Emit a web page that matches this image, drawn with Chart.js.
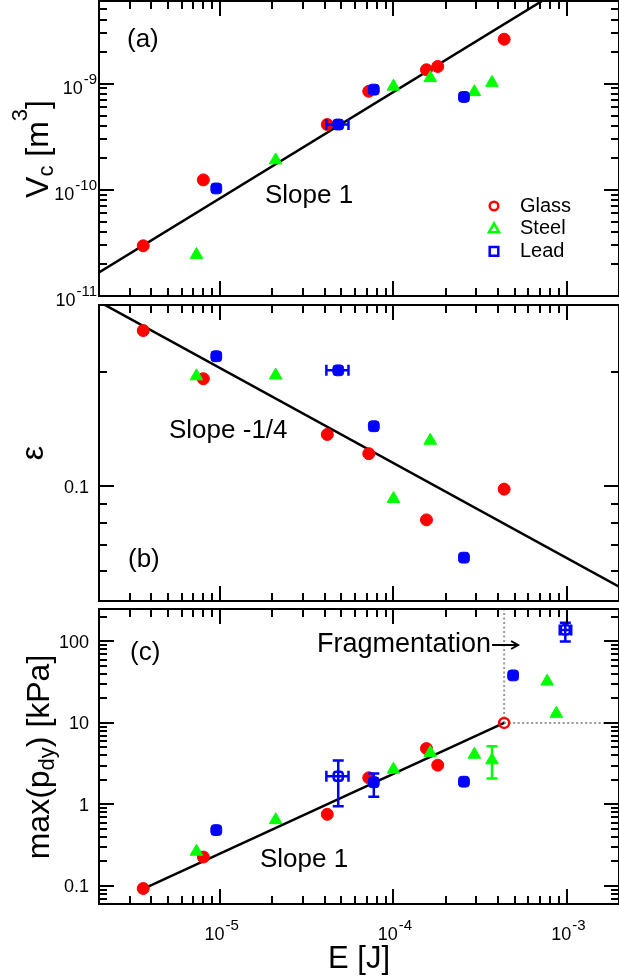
<!DOCTYPE html>
<html>
<head>
<meta charset="utf-8">
<title>Crater volume, restitution and peak pressure vs impact energy</title>
<script src="https://cdn.jsdelivr.net/npm/chart.js@4.4.1/dist/chart.umd.min.js"></script>
<style>
  html, body { margin: 0; padding: 0; background: #fff; }
  .wrap { position: relative; width: 619px; height: 979px; }
  .wrap canvas { position: absolute; left: 0; top: 0; }
</style>
</head>
<body>
<div class="wrap">
  <canvas id="chartVc" width="619" height="979"></canvas>
  <canvas id="chartEps" width="619" height="979"></canvas>
  <canvas id="chartP" width="619" height="979"></canvas>
</div>
<script>
// impact energy axis, shared by the three panels
const energyRange = [2e-6, 2e-3];
const energyTicks = [1e-5, 1e-4, 1e-3];

const vcRange = [1e-11, 6e-9];
const vcTicks = [1e-11, 1e-10, 1e-9];
const epsRange = [0.05, 0.3];
const epsTicks = [0.1];
const pRange = [0.06, 250];
const pTicks = [0.1, 1, 10, 100];

// glass beads
const glassE = [3.6e-6, 8.0e-6, 4.15e-5, 7.2e-5, 1.55e-4, 1.8e-4, 4.35e-4];
const glassVc = [2.97e-11, 1.24e-10, 4.12e-10, 8.47e-10, 1.35e-9, 1.45e-9, 2.62e-9];
const glassEps = [0.257, 0.192, 0.137, 0.122, 0.0817, null, 0.0984];
const glassP = [0.093, 0.226, 0.755, 2.12, 4.85, 3.03, 10];

// steel balls
const steelE = [7.3e-6, 2.09e-5, 1.0e-4, 1.63e-4, 2.93e-4, 3.7e-4, 7.7e-4, 8.7e-4];
const steelVc = [2.44e-11, 1.9e-10, 9.4e-10, 1.13e-9, 8.34e-10, 1.02e-9, null, null];
const steelEps = [0.195, 0.196, 0.0928, 0.132, null, null, null, null];
const steelP = [0.264, 0.643, 2.68, 4.3, 4.09, 3.49, 32.3, 13.0];
const steelPLow = [null, null, null, null, null, 2.08, null, null];
const steelPHigh = [null, null, null, null, null, 5.17, null, null];

// lead balls
const leadE = [9.5e-6, 4.8e-5, 7.7e-5, 2.55e-4, 4.9e-4, 9.8e-4];
const leadELow = [null, 4.1e-5, null, null, null, 9.1e-4];
const leadEHigh = [null, 5.5e-5, null, null, null, 1.06e-3];
const leadVc = [1.03e-10, 4.12e-10, 8.78e-10, 7.49e-10, null, null];
const leadEps = [0.22, 0.202, 0.144, 0.065, null, null];
const leadP = [0.484, 2.22, 1.87, 1.9, 38.3, 138.6];
const leadPLow = [null, 0.95, 1.24, null, null, 100];
const leadPHigh = [null, 3.46, 2.4, null, null, 170];

// power-law guides
const slopeVcE = [2e-6, 1e-3];
const slopeVc = [1.67e-11, 8.35e-9];
const slopeEpsE = [2e-6, 2e-3];
const slopeEps = [0.306, 0.0545];
const slopePE = [3.6e-6, 4.35e-4];
const slopeP = [0.092, 10];

// fragmentation threshold
const fragE = 4.35e-4;
const fragP = 10;

const RED = '#ff0000', GREEN = '#00ff00', BLUE = '#0000ff';
const FONT = '"Liberation Sans", Arial, Helvetica, sans-serif';
const CANVAS_H = 979, LEFT = 99;

function font(px) { return px + 'px ' + FONT; }

function logSteps(min, max) {
  const out = [];
  const e0 = Math.floor(Math.log10(min)), e1 = Math.ceil(Math.log10(max));
  for (let e = e0; e <= e1; e++) {
    for (let m = 1; m <= 9; m++) {
      const v = m * Math.pow(10, e);
      if (v >= min * (1 - 1e-9) && v <= max * (1 + 1e-9)) out.push({ v, major: m === 1 });
    }
  }
  return out;
}

// text made of runs with their own size and vertical shift (sub/superscripts)
function drawRich(ctx, parts, x, y, align) {
  let w = 0;
  parts.forEach(p => {
    ctx.font = font(p.size);
    p.w = ctx.measureText(p.t).width;
    w += p.w + (p.gap || 0);
  });
  let cx = align === 'center' ? x - w / 2 : align === 'right' ? x - w : x;
  parts.forEach(p => {
    cx += p.gap || 0;
    ctx.font = font(p.size);
    ctx.fillText(p.t, cx, y + (p.dy || 0));
    cx += p.w;
  });
  return cx;
}

function tickParts(v) {
  const exp = Math.round(Math.log10(v));
  if (Math.abs(exp) >= 3) {
    return [{ t: '10', size: 18 }, { t: String(exp), size: 15, dy: -10, gap: 1 }];
  }
  return [{ t: String(v), size: 18 }];
}

function markers(label, xs, ys, style, color, openIdx, extra) {
  openIdx = openIdx || [];
  const r = { circle: 6, triangle: 7.3, rectRounded: 6.3 }[style];
  return Object.assign({
    label,
    data: xs.map((x, i) => ({ x, y: ys[i] })),
    showLine: false,
    pointStyle: style,
    borderColor: color,
    pointBorderColor: color,
    pointBackgroundColor: xs.map((_, i) => openIdx.includes(i) ? 'rgba(255,255,255,0)' : color),
    pointRadius: xs.map((_, i) => openIdx.includes(i) ? r - 1 : r),
    pointBorderWidth: xs.map((_, i) => openIdx.includes(i) ? 2.5 : 1),
    pointHoverRadius: 0
  }, extra || {});
}

function straight(xs, ys, color, width, dash) {
  return {
    data: xs.map((x, i) => ({ x, y: ys[i] })),
    showLine: true,
    borderColor: color,
    borderWidth: width,
    borderDash: dash || [],
    pointRadius: 0,
    pointHoverRadius: 0,
    clip: 0
  };
}

function drawErrorBars(chart) {
  const ctx = chart.ctx, xs = chart.scales.x, ys = chart.scales.y;
  const cap = 5.5;
  chart.data.datasets.forEach(ds => {
    if (!ds.errX && !ds.errY) return;
    ctx.save();
    ctx.strokeStyle = ds.borderColor;
    ctx.lineWidth = 2.5;
    ds.data.forEach((p, i) => {
      if (p.y == null) return;
      const px = xs.getPixelForValue(p.x), py = ys.getPixelForValue(p.y);
      ctx.beginPath();
      if (ds.errX && ds.errX[0][i] != null) {
        const x0 = xs.getPixelForValue(ds.errX[0][i]), x1 = xs.getPixelForValue(ds.errX[1][i]);
        ctx.moveTo(x0, py); ctx.lineTo(x1, py);
        ctx.moveTo(x0, py - cap); ctx.lineTo(x0, py + cap);
        ctx.moveTo(x1, py - cap); ctx.lineTo(x1, py + cap);
      }
      if (ds.errY && ds.errY[0][i] != null) {
        const y0 = ys.getPixelForValue(ds.errY[0][i]), y1 = ys.getPixelForValue(ds.errY[1][i]);
        ctx.moveTo(px, y0); ctx.lineTo(px, y1);
        ctx.moveTo(px - cap, y0); ctx.lineTo(px + cap, y0);
        ctx.moveTo(px - cap, y1); ctx.lineTo(px + cap, y1);
      }
      ctx.stroke();
    });
    ctx.restore();
  });
}

function drawLegend(ctx, x, y) {
  const rows = [['Glass', RED, 'circle'], ['Steel', GREEN, 'triangle'], ['Lead', BLUE, 'square']];
  rows.forEach((row, k) => {
    const cy = y + k * 22.7;
    ctx.strokeStyle = row[1];
    ctx.lineWidth = 2.5;
    ctx.beginPath();
    if (row[2] === 'circle') {
      ctx.arc(x, cy, 4.3, 0, Math.PI * 2);
    } else if (row[2] === 'triangle') {
      ctx.moveTo(x, cy - 5.3); ctx.lineTo(x + 5, cy + 3.6); ctx.lineTo(x - 5, cy + 3.6); ctx.closePath();
    } else {
      ctx.rect(x - 4.3, cy - 4.3, 8.6, 8.6);
    }
    ctx.stroke();
    ctx.fillStyle = '#000';
    ctx.font = font(20);
    ctx.fillText(row[0], x + 26, cy + 5.5);
  });
}

function drawArrow(ctx, x0, x1, y) {
  ctx.strokeStyle = '#000';
  ctx.lineWidth = 2;
  ctx.beginPath();
  ctx.moveTo(x0, y); ctx.lineTo(x1, y);
  ctx.moveTo(x1 - 7, y - 4); ctx.lineTo(x1, y); ctx.lineTo(x1 - 7, y + 4);
  ctx.stroke();
}

// frame, inward ticks on all four sides, tick labels, titles and notes
function framePlugin(spec) {
  return {
    id: 'frame',
    afterDatasetsDraw(chart) { drawErrorBars(chart); },
    afterDraw(chart) {
      const ctx = chart.ctx, a = chart.chartArea;
      const xs = chart.scales.x, ys = chart.scales.y;
      ctx.save();
      ctx.strokeStyle = '#000';
      ctx.fillStyle = '#000';
      ctx.lineWidth = 2;
      ctx.strokeRect(a.left, a.top, a.right - a.left, a.bottom - a.top);

      ctx.beginPath();
      logSteps(xs.min, xs.max).forEach(t => {
        const px = Math.round(xs.getPixelForValue(t.v)), len = t.major ? 15 : 8;
        ctx.moveTo(px, a.top); ctx.lineTo(px, a.top + len);
        ctx.moveTo(px, a.bottom); ctx.lineTo(px, a.bottom - len);
      });
      logSteps(ys.min, ys.max).forEach(t => {
        const py = Math.round(ys.getPixelForValue(t.v)), len = t.major ? 15 : 8;
        ctx.moveTo(a.left, py); ctx.lineTo(a.left + len, py);
        ctx.moveTo(a.right, py); ctx.lineTo(a.right - len, py);
      });
      ctx.stroke();

      ctx.textBaseline = 'alphabetic';
      spec.yTicks.forEach(v => {
        const py = ys.getPixelForValue(v);
        const parts = tickParts(v);
        if (parts.length > 1) drawRich(ctx, parts, a.left - 2, py + 10, 'right');
        else drawRich(ctx, parts, a.left - 10, py + 6.5, 'right');
      });
      if (spec.xTicks) {
        spec.xTicks.forEach(v => {
          drawRich(ctx, tickParts(v), xs.getPixelForValue(v) + 1.5, a.bottom + 36, 'center');
        });
        drawRich(ctx, [{ t: 'E [J]', size: 31 }], (a.left + a.right) / 2, a.bottom + 64, 'center');
      }

      // rotated y title
      ctx.save();
      ctx.translate(spec.titleX, spec.titleY);
      ctx.rotate(-Math.PI / 2);
      drawRich(ctx, spec.title, 0, 0, 'center');
      ctx.restore();

      spec.notes.forEach(n => {
        const end = drawRich(ctx, [{ t: n[0], size: n[3] || 26 }], n[1], n[2], 'left');
        if (n[4]) drawArrow(ctx, end + 1, end + 27, n[2] - 7);
      });
      if (spec.legend) drawLegend(ctx, spec.legend[0], spec.legend[1]);
      ctx.restore();
    }
  };
}

function makePanel(id, top, bottom, yRange, datasets, spec) {
  return new Chart(document.getElementById(id), {
    type: 'scatter',
    data: { datasets },
    options: {
      responsive: false,
      animation: false,
      devicePixelRatio: 1,
      events: [],
      layout: { autoPadding: false, padding: { left: LEFT, right: 0, top: top, bottom: CANVAS_H - bottom } },
      scales: {
        x: { type: 'logarithmic', min: energyRange[0], max: energyRange[1], display: false },
        y: { type: 'logarithmic', min: yRange[0], max: yRange[1], display: false }
      },
      plugins: { legend: { display: false }, tooltip: { enabled: false } }
    },
    plugins: [framePlugin(spec)]
  });
}

// (a) crater volume
makePanel('chartVc', 1, 296, vcRange, [
  markers('Lead', leadE, leadVc, 'rectRounded', BLUE, [], { errX: [leadELow, leadEHigh] }),
  markers('Steel', steelE, steelVc, 'triangle', GREEN),
  markers('Glass', glassE, glassVc, 'circle', RED),
  straight(slopeVcE, slopeVc, '#000', 2.5)
], {
  yTicks: vcTicks,
  title: [{ t: 'V', size: 32 }, { t: 'c', size: 22, dy: 5 }, { t: ' [m', size: 32 }, { t: '3', size: 22, dy: -21 }, { t: ']', size: 32 }],
  titleX: 48, titleY: 149,
  notes: [['(a)', 127, 47], ['Slope 1', 265, 203]],
  legend: [494, 206]
});

// (b) restitution coefficient
makePanel('chartEps', 305, 601, epsRange, [
  markers('Lead', leadE, leadEps, 'rectRounded', BLUE, [], { errX: [leadELow, leadEHigh] }),
  markers('Steel', steelE, steelEps, 'triangle', GREEN),
  markers('Glass', glassE, glassEps, 'circle', RED),
  straight(slopeEpsE, slopeEps, '#000', 2.5)
], {
  yTicks: epsTicks,
  title: [{ t: 'ε', size: 32 }],
  titleX: 43, titleY: 453,
  notes: [['(b)', 128, 567], ['Slope -1/4', 169, 438]]
});

// (c) peak dynamic pressure
makePanel('chartP', 609, 904, pRange, [
  markers('Lead', leadE, leadP, 'rectRounded', BLUE, [1, 5], { errX: [leadELow, leadEHigh], errY: [leadPLow, leadPHigh] }),
  markers('Steel', steelE, steelP, 'triangle', GREEN, [], { errY: [steelPLow, steelPHigh] }),
  markers('Glass', glassE, glassP, 'circle', RED, [6]),
  straight(slopePE, slopeP, '#000', 2.5),
  straight([fragE, fragE], [fragP, pRange[1]], '#999', 2, [2, 2.5]),
  straight([fragE, energyRange[1]], [fragP, fragP], '#999', 2, [2, 2.5])
], {
  yTicks: pTicks,
  xTicks: energyTicks,
  title: [{ t: 'max(p', size: 32 }, { t: 'dy', size: 22, dy: 5 }, { t: ') [kPa]', size: 32 }],
  titleX: 49, titleY: 757,
  notes: [['(c)', 130, 660], ['Slope 1', 260, 867], ['Fragmentation', 317, 652, 27, true]]
});
</script>
</body>
</html>
